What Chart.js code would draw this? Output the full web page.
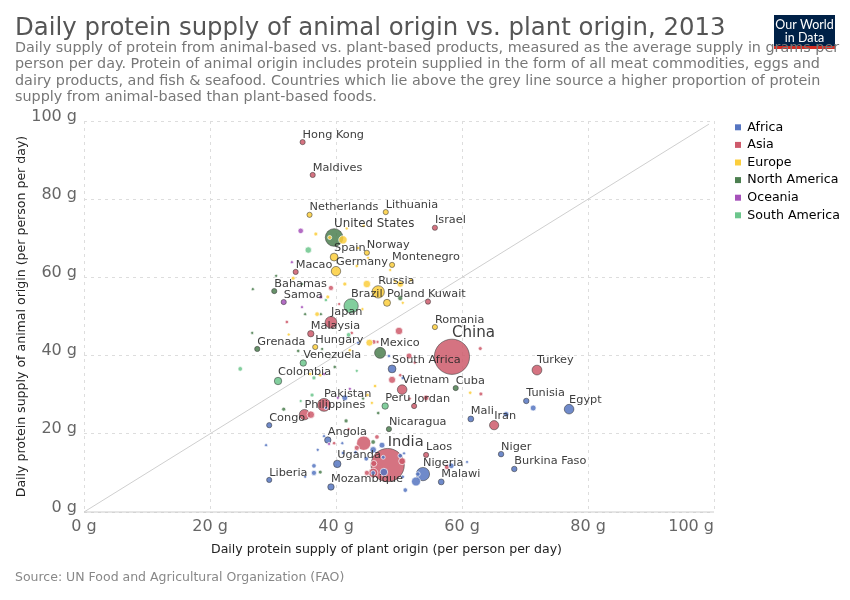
<!DOCTYPE html>
<html>
<head>
<meta charset="utf-8">
<script src="https://cdn.jsdelivr.net/npm/chart.js@4"></script>
<style>
  body { margin: 0; background: #fff; }
</style>
</head>
<body>
<canvas id="chart" width="850" height="600"></canvas>
<script>
// Text of the chart
const titleText = 'Daily protein supply of animal origin vs. plant origin, 2013';
const subtitleLines = [
  'Daily supply of protein from animal-based vs. plant-based products, measured as the average supply in grams per',
  'person per day. Protein of animal origin includes protein supplied in the form of all meat commodities, eggs and',
  'dairy products, and fish & seafood. Countries which lie above the grey line source a higher proportion of protein',
  'supply from animal-based than plant-based foods.'
];
const sourceText = 'Source: UN Food and Agricultural Organization (FAO)';
const xAxisTitle = 'Daily protein supply of plant origin (per person per day)';
const yAxisTitle = 'Daily protein supply of animal origin (per person per day)';
const tickValues = [0, 20, 40, 60, 80, 100];

// Values. The labelled countries come first in each list,
// population (millions) is estimated from the bubble size.
const africaNames = ['South Africa', 'Angola', 'Uganda', 'Nigeria', 'Malawi', 'Mozambique', 'Liberia', 'Congo', 'Mali', 'Tunisia', 'Egypt', 'Niger', 'Burkina Faso'];
const africaPlant = [48.9, 38.7, 40.2, 53.8, 56.7, 39.2, 29.4, 29.4, 61.4, 70.2, 77, 66.2, 68.3, 71.3, 67, 60.8, 58.3, 52.7, 53, 51, 50.6, 41.4, 48.4, 43.5, 50.6, 38.1, 47.3, 45.9, 43.1, 41, 28.9, 37.1, 36.5, 36.5, 35.1, 44.8, 47.5, 50.2, 50.8, 47.6, 45.9, 38.4, 41.1];
const africaAnimal = [36.6, 18.4, 12.3, 9.7, 7.7, 6.4, 8.2, 22.2, 23.8, 28.4, 26.3, 14.8, 11, 26.6, 25, 12.8, 11.8, 7.8, 9.7, 5.6, 9, 29.2, 39.9, 43.3, 34.3, 19.4, 17.1, 15.9, 15.3, 17.6, 17.1, 15.9, 11.8, 10, 9, 13.6, 14, 14.4, 15, 10.2, 10, 26.6, 15.1];
const africaPopulation = [57, 37, 51, 176, 30, 37, 17, 22, 30, 26, 88, 26, 26, 30, 26, 6, 26, 77, 17, 17, 9, 30, 9, 7, 9, 7, 30, 37, 9, 7, 7, 7, 17, 22, 5, 17, 12, 17, 7, 54, 17, 7, 9];

const asiaNames = ['Hong Kong', 'Maldives', 'Israel', 'Macao', 'Kuwait', 'Japan', 'Malaysia', 'China', 'Vietnam', 'Pakistan', 'Philippines', 'Jordan', 'India', 'Laos', 'Iran', 'Turkey'];
const asiaPlant = [34.7, 36.3, 55.7, 33.6, 54.6, 39.2, 36, 58.4, 50.5, 38.1, 35, 52.4, 48.2, 54.3, 65.1, 71.9, 50, 48.9, 51.6, 46, 46.6, 42.5, 32.2, 52.5, 50.2, 51.7, 54.3, 42, 44.4, 46.5, 43.3, 39.7, 46, 50.5, 45.9, 44.9, 57.6, 62.9, 63, 36, 39.2, 40.5];
const asiaAnimal = [94.6, 86.2, 72.7, 61.4, 53.8, 48.5, 45.6, 39.7, 31.3, 27.4, 24.9, 27.1, 12, 14.6, 22.2, 36.3, 46.3, 33.8, 39.9, 43.5, 43.5, 45.8, 48.6, 38.2, 35, 29, 29.2, 21.2, 17.6, 19.2, 16.4, 17.6, 12.4, 13, 10, 10, 11.5, 41.8, 30.2, 24.9, 57.3, 53.2];
const asiaPopulation = [7, 0.4, 8, 1, 4, 135, 36, 1303, 88, 165, 104, 17, 1160, 17, 80, 92, 51, 45, 30, 17, 7, 9, 9, 7, 9, 7, 26, 7, 204, 17, 22, 9, 33, 43, 84, 22, 22, 12, 12, 51, 22, 7];

const europeNames = ['Netherlands', 'Lithuania', 'Spain', 'Norway', 'Germany', 'Montenegro', 'Russia', 'Poland', 'Romania', 'Hungary'];
const europePlant = [35.8, 47.9, 39.7, 44.9, 40, 48.9, 46.7, 48.1, 55.7, 36.7, 41.1, 39, 36.8, 41.7, 44.4, 43.5, 45.1, 43.3, 48.6, 33.2, 41.4, 44.9, 50.2, 49.4, 51.9, 50.6, 38.7, 44.2, 37, 32.5, 45.3, 42.2, 35.9, 37.5, 46.2, 45, 45.7, 61.3];
const europeAnimal = [76, 76.7, 65.2, 66.3, 61.6, 63.2, 56.3, 53.5, 47.3, 42.2, 69.6, 70.2, 71.1, 72.5, 73.2, 67.5, 65, 62.9, 61.9, 59.8, 58.3, 58.3, 58.3, 59, 59.3, 53.5, 55, 51.9, 50.6, 45.4, 43.3, 41.4, 35.3, 35, 32.2, 29.9, 27.9, 30.5];
const europePopulation = [17, 3, 57, 5, 84, 1, 150, 45, 22, 10, 66, 13, 12, 7, 7, 9, 7, 9, 7, 12, 13, 51, 37, 9, 9, 7, 12, 7, 17, 7, 43, 9, 9, 9, 9, 9, 7, 9];

const northAmericaNames = ['United States', 'Bahamas', 'Mexico', 'Grenada', 'Cuba', 'Nicaragua'];
const northAmericaPlant = [39.7, 30.2, 47, 27.5, 59, 48.4, 30.5, 26.8, 34.6, 50.2, 35.1, 37.6, 26.7, 34, 37.8, 39.8, 44.3, 46.7, 31.7, 41.6, 45.9, 37.5];
const northAmericaAnimal = [70.2, 56.5, 40.7, 41.7, 31.7, 21.2, 60.4, 57, 58.3, 54.7, 50.6, 50.6, 45.8, 41.2, 41.7, 37.1, 29, 25.3, 26.3, 23.3, 17.9, 10.2];
const northAmericaPopulation = [315, 1, 117, 0.1, 11, 6, 7, 7, 7, 22, 7, 7, 7, 9, 7, 9, 7, 9, 13, 13, 17, 12];

const oceaniaNames = ['Samoa'];
const oceaniaPlant = [31.7, 34.4, 33, 37.6, 34.6, 38.1, 42.2, 40.3, 38.9];
const oceaniaAnimal = [53.7, 71.9, 63.9, 55, 52.4, 35.3, 31.5, 29.2, 17.4];
const oceaniaPopulation = [0.2, 26, 7, 12, 7, 7, 7, 7, 7];

const southAmericaNames = ['Brazil', 'Venezuela', 'Colombia', 'Peru'];
const southAmericaPlant = [42.4, 34.8, 30.8, 47.8, 35.6, 38.4, 42, 24.8, 43.3, 36.5, 36.2, 34.4];
const southAmericaAnimal = [52.7, 38.1, 33.5, 27.1, 67, 54.2, 45.3, 36.6, 36.1, 34.3, 29.9, 28.4];
const southAmericaPopulation = [204, 37, 51, 37, 37, 9, 17, 17, 7, 13, 13, 7];

// The grey line where animal and plant protein are equal
const equalLinePlant = [0, 99.2];
const equalLineAnimal = [0, 99.2];

// Bubble area follows population, small countries get a minimum size
function bubbleRadius(population, name) {
  return Math.max(name ? 2.6 : 1.5, 0.3 + 0.48 * Math.sqrt(population));
}

// Turn the lists of one continent into points, biggest first so small ones stay visible
function makePoints(names, plant, animal, population) {
  const points = plant.map((value, i) => ({
    x: value,
    y: animal[i],
    r: bubbleRadius(population[i], names[i]),
    name: names[i] || '',
    population: population[i]
  }));
  return points.sort((a, b) => b.population - a.population);
}

function makeContinent(label, color, drawOrder, points) {
  return {
    type: 'bubble',
    label: label,
    data: points,
    order: drawOrder,
    swatch: color,
    backgroundColor: color + 'd9',
    borderColor: context => (context.raw && context.raw.name) ? 'rgba(60,60,60,0.7)' : 'rgba(255,255,255,0.85)',
    borderWidth: context => (context.raw && context.raw.name) ? 0.8 : 0.8
  };
}

const datasets = [
  makeContinent('Africa', '#5675c1', 3, makePoints(africaNames, africaPlant, africaAnimal, africaPopulation)),
  makeContinent('Asia', '#ce5a6b', 6, makePoints(asiaNames, asiaPlant, asiaAnimal, asiaPopulation)),
  makeContinent('Europe', '#fcce3c', 1, makePoints(europeNames, europePlant, europeAnimal, europePopulation)),
  makeContinent('North America', '#4c7f50', 5, makePoints(northAmericaNames, northAmericaPlant, northAmericaAnimal, northAmericaPopulation)),
  makeContinent('Oceania', '#a652ba', 2, makePoints(oceaniaNames, oceaniaPlant, oceaniaAnimal, oceaniaPopulation)),
  makeContinent('South America', '#6cc68c', 4, makePoints(southAmericaNames, southAmericaPlant, southAmericaAnimal, southAmericaPopulation)),
  {
    type: 'line',
    label: 'equal',
    data: equalLinePlant.map((value, i) => ({ x: value, y: equalLineAnimal[i] })),
    order: 7,
    borderColor: '#cfcfcf',
    borderWidth: 1,
    pointRadius: 0
  }
];

const fontName = '"DejaVu Sans", sans-serif';

// Title, subtitle, source and logo sit outside of the plot
const textPlugin = {
  id: 'pageText',
  beforeDraw(chart) {
    const ctx = chart.ctx;
    ctx.save();
    ctx.textBaseline = 'alphabetic';

    ctx.fillStyle = '#002147';
    ctx.fillRect(774, 15, 61, 34);
    ctx.fillStyle = '#d42b21';
    ctx.fillRect(774, 46, 61, 3);
    ctx.fillStyle = '#fff';
    ctx.textAlign = 'center';
    ctx.font = '12.5px Lato, sans-serif';
    ctx.fillText('Our World', 804.5, 29);
    ctx.fillText('in Data', 804.5, 42);

    ctx.textAlign = 'left';
    ctx.fillStyle = '#555';
    ctx.font = '24.4px ' + fontName;
    ctx.fillText(titleText, 15, 35);

    ctx.fillStyle = '#777';
    ctx.font = '14.35px ' + fontName;
    subtitleLines.forEach((line, i) => ctx.fillText(line, 15, 52 + i * 16.3));

    ctx.fillStyle = '#888';
    ctx.font = '12.5px ' + fontName;
    ctx.fillText(sourceText, 15, 581);
    ctx.restore();
  },
  afterDraw(chart) {
    // x axis labels: the last one ends on the plot edge, so they are placed here
    const ctx = chart.ctx;
    const xScale = chart.scales.x;
    const area = chart.chartArea;
    ctx.save();
    ctx.strokeStyle = '#ccc';
    ctx.lineWidth = 1;
    ctx.beginPath();
    ctx.moveTo(area.left, area.bottom);
    ctx.lineTo(area.right, area.bottom);
    ctx.stroke();

    ctx.textBaseline = 'middle';
    ctx.fillStyle = '#666';
    ctx.font = '16px ' + fontName;
    tickValues.forEach(value => {
      const last = value === tickValues[tickValues.length - 1];
      ctx.textAlign = last ? 'right' : 'center';
      ctx.fillText(value + ' g', xScale.getPixelForValue(value), 527);
    });
    ctx.fillStyle = '#222';
    ctx.textAlign = 'center';
    ctx.font = '12.55px ' + fontName;
    ctx.fillText(xAxisTitle, 386.5, 550);
    ctx.restore();
  }
};

// Country names sit just above their bubble
const countryLabelPlugin = {
  id: 'countryLabels',
  afterDatasetsDraw(chart) {
    const ctx = chart.ctx;
    ctx.save();
    ctx.textAlign = 'left';
    ctx.textBaseline = 'middle';
    ctx.fillStyle = 'rgba(40,40,40,0.9)';
    chart.data.datasets.forEach((dataset, d) => {
      if (dataset.type !== 'bubble') return;
      const elements = chart.getDatasetMeta(d).data;
      dataset.data.forEach((point, i) => {
        if (!point.name) return;
        const size = point.population >= 300 ? 10.8 + point.population / 300 : 11.3;
        ctx.font = size + 'px ' + fontName;
        const pos = elements[i];
        ctx.fillText(point.name, pos.x, pos.y - point.r - size * 0.42);
      });
    });
    ctx.restore();
  }
};

// Move the legend to the right of the plot
const legendPlugin = {
  id: 'legendPlace',
  afterLayout(chart) {
    const legend = chart.legend;
    legend.left = 730;
    legend.right = 850;
    legend.top = 116;
    legend.bottom = 300;
  }
};

new Chart(document.getElementById('chart'), {
  data: { datasets: datasets },
  plugins: [textPlugin, countryLabelPlugin, legendPlugin],
  options: {
    responsive: false,
    animation: false,
    layout: { padding: { left: 0, top: 121, right: 136, bottom: 0 } },
    scales: {
      x: {
        type: 'linear',
        min: 0,
        max: 100,
        afterFit: scale => { scale.height = 88; },
        afterBuildTicks: scale => { scale.ticks = tickValues.map(value => ({ value })); },
        grid: { color: '#ddd', drawTicks: false },
        border: { display: false, dash: [3, 4] },
        ticks: { display: false }
      },
      y: {
        type: 'linear',
        min: 0,
        max: 100,
        afterFit: scale => { scale.width = 84; },
        afterBuildTicks: scale => { scale.ticks = tickValues.map(value => ({ value })); },
        grid: { color: '#ddd', drawTicks: false },
        border: { display: false, dash: [3, 4] },
        ticks: {
          color: '#666',
          font: { family: fontName, size: 16 },
          padding: 7,
          labelOffset: -4.5,
          callback: value => value + ' g'
        },
        title: {
          display: true,
          text: yAxisTitle,
          color: '#222',
          font: { family: fontName, size: 12.55 },
          padding: { top: 14, bottom: 0 }
        }
      }
    },
    plugins: {
      tooltip: { enabled: false },
      title: { display: false },
      legend: {
        position: 'chartArea',
        align: 'start',
        labels: {
          boxWidth: 6,
          boxHeight: 6,
          padding: 5,
          color: '#222',
          font: { family: fontName, size: 12.6 },
          generateLabels: chart => chart.data.datasets
            .map((dataset, i) => ({
              text: dataset.label,
              fillStyle: dataset.swatch,
              strokeStyle: dataset.swatch,
              lineWidth: 0,
              datasetIndex: i
            }))
            .filter(item => item.text !== 'equal')
        }
      }
    }
  }
});
</script>
</body>
</html>
